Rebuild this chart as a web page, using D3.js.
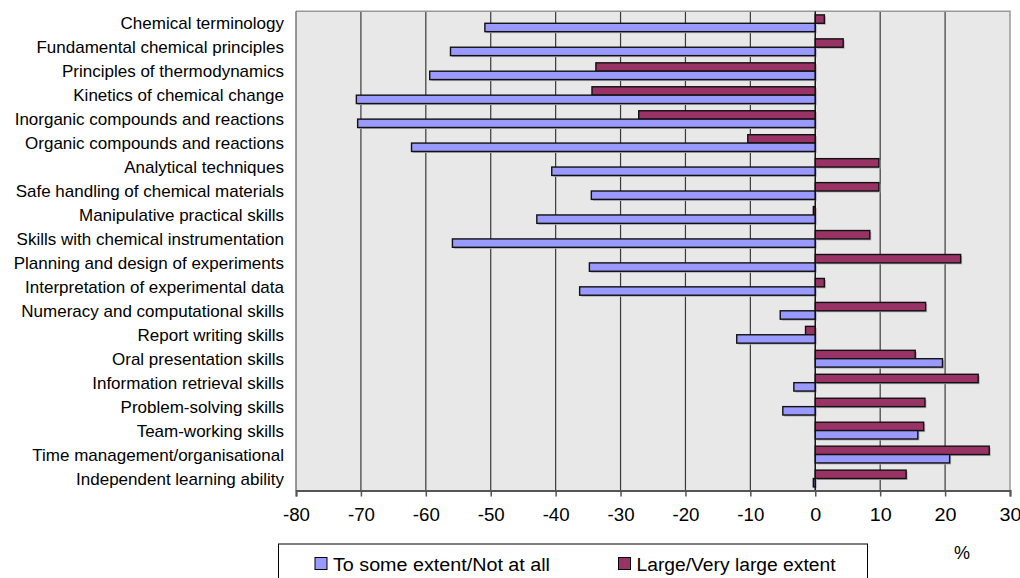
<!DOCTYPE html>
<html>
<head>
<meta charset="utf-8">
<script src="https://cdn.jsdelivr.net/npm/d3@7/dist/d3.min.js"></script>
<style>
  html, body { margin: 0; padding: 0; background: #ffffff; }
  svg { display: block; font-family: "Liberation Sans", Arial, sans-serif; }
</style>
</head>
<body>
<svg id="chart" width="1020" height="578"></svg>
<script>
const categories = [
  "Chemical terminology",
  "Fundamental chemical principles",
  "Principles of thermodynamics",
  "Kinetics of chemical change",
  "Inorganic compounds and reactions",
  "Organic compounds and reactions",
  "Analytical techniques",
  "Safe handling of chemical materials",
  "Manipulative practical skills",
  "Skills with chemical instrumentation",
  "Planning and design of experiments",
  "Interpretation of experimental data",
  "Numeracy and computational skills",
  "Report writing skills",
  "Oral presentation skills",
  "Information retrieval skills",
  "Problem-solving skills",
  "Team-working skills",
  "Time management/organisational",
  "Independent learning ability"
];
const someExtent = [-50.9, -56.2, -59.4, -70.7, -70.5, -62.2, -40.6, -34.5, -42.9, -55.9,
                    -34.8, -36.3, -5.4, -12.1, 19.6, -3.3, -5.0, 15.8, 20.7, -0.3];
const largeExtent = [1.4, 4.3, -33.8, -34.4, -27.2, -10.4, 9.8, 9.8, -0.3, 8.4,
                     22.4, 1.4, 17.0, -1.5, 15.4, 25.1, 16.9, 16.7, 26.8, 14.0];
const xTicks = [-80, -70, -60, -50, -40, -30, -20, -10, 0, 10, 20, 30];
const seriesNames = ["To some extent/Not at all", "Large/Very large extent"];
const seriesColors = ["#9999ff", "#993366"];

const svg = d3.select("#chart");
const L = 296, R = 1010, T = 11.3, B = 490.5;

const x = d3.scaleLinear().domain([-80, 30]).range([L, R]);
const y = d3.scaleBand().domain(categories).range([T, B]).paddingInner(0.3).paddingOuter(0.15);
const sub = d3.scaleBand().domain(["large", "some"]).range([0, y.bandwidth()]);

svg.append("rect").attr("x", L).attr("y", T).attr("width", R - L).attr("height", B - T)
  .attr("fill", "#e8e8e8");

svg.append("g").selectAll("line").data(xTicks.filter(d => d !== -80 && d !== 30)).join("line")
  .attr("x1", d => x(d)).attr("x2", d => x(d)).attr("y1", T).attr("y2", B)
  .attr("stroke", "#3a3a3a").attr("stroke-width", 1.2);

svg.append("path").attr("d", `M${L},${T}H${R}V${B}`).attr("fill", "none")
  .attr("stroke", "#999").attr("stroke-width", 1.5);
svg.append("line").attr("x1", L).attr("x2", L).attr("y1", T).attr("y2", B)
  .attr("stroke", "#777").attr("stroke-width", 1.5);

const rows = categories.map((c, i) => ({ c, some: someExtent[i], large: largeExtent[i] }));
const barData = [];
rows.forEach(r => {
  barData.push({ c: r.c, key: "large", v: r.large, color: seriesColors[1] });
  barData.push({ c: r.c, key: "some", v: r.some, color: seriesColors[0] });
});
const gBars = svg.append("g");
gBars.selectAll("rect.sh").data(barData).join("rect").attr("class", "sh")
  .attr("x", d => Math.min(x(0), x(d.v)) + 1.5)
  .attr("y", d => y(d.c) + sub(d.key) + 1.5)
  .attr("width", d => Math.abs(x(d.v) - x(0)))
  .attr("height", sub.bandwidth())
  .attr("fill", "#b0b0b0");
gBars.selectAll("rect.bar").data(barData).join("rect").attr("class", "bar")
  .attr("x", d => Math.min(x(0), x(d.v)))
  .attr("y", d => y(d.c) + sub(d.key))
  .attr("width", d => Math.abs(x(d.v) - x(0)))
  .attr("height", sub.bandwidth())
  .attr("fill", d => d.color)
  .attr("stroke", "#111").attr("stroke-width", 1.4);

svg.append("line").attr("x1", x(0)).attr("x2", x(0)).attr("y1", T).attr("y2", B)
  .attr("stroke", "#111").attr("stroke-width", 1.2);

const xAxis = d3.axisBottom(x).tickValues(xTicks).tickSize(6).tickPadding(12).tickFormat(d3.format("d"));
const gx = svg.append("g").attr("transform", `translate(0,${B})`).call(xAxis);
gx.select(".domain").attr("stroke", "#555").attr("stroke-width", 2);
gx.selectAll(".tick line").attr("stroke", "#555").attr("stroke-width", 1.5);
gx.selectAll(".tick text").attr("font-size", "18px").attr("fill", "#000")
  .attr("font-family", "Liberation Sans, Arial, sans-serif")
  .text(d => d < 0 ? "-" + Math.abs(d) : String(d))
  .attr("textLength", d => d < 0 ? 27 : (d === 0 ? 11 : 22))
  .attr("lengthAdjust", "spacingAndGlyphs");

svg.append("g").selectAll("text").data(categories).join("text")
  .attr("x", 284).attr("y", d => y(d) + y.bandwidth() / 2)
  .attr("dy", "0.36em")
  .attr("text-anchor", "end").attr("font-size", "17px").attr("fill", "#000")
  .text(d => d);

svg.append("text").attr("x", 962).attr("y", 559).attr("text-anchor", "middle")
  .attr("font-size", "18px").attr("fill", "#000").text("%");

const lg = svg.append("g");
lg.append("rect").attr("x", 278.5).attr("y", 544).attr("width", 589).attr("height", 50)
  .attr("fill", "#fff").attr("stroke", "#000").attr("stroke-width", 1);
const legendX = [315, 618.5];
const legendW = [217, 199];
seriesNames.forEach((name, i) => {
  lg.append("rect").attr("x", legendX[i]).attr("y", 557.5).attr("width", 12).attr("height", 12)
    .attr("fill", seriesColors[i]).attr("stroke", "#000").attr("stroke-width", 1);
  lg.append("text").attr("x", legendX[i] + 18).attr("y", 571)
    .attr("font-size", "18px").attr("fill", "#000")
    .attr("textLength", legendW[i]).attr("lengthAdjust", "spacingAndGlyphs")
    .text(name);
});
</script>
</body>
</html>
